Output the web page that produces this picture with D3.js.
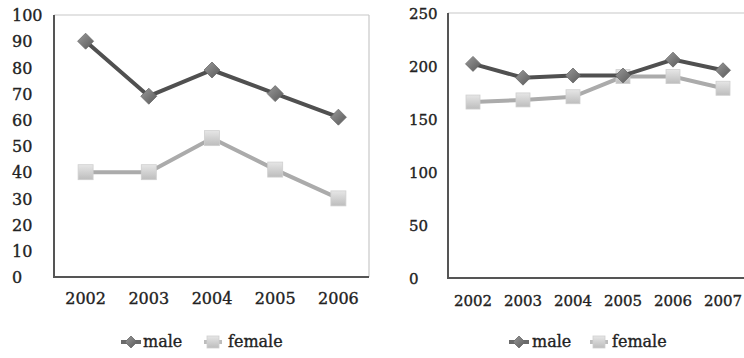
<!DOCTYPE html>
<html><head><meta charset="utf-8">
<script src="https://cdn.jsdelivr.net/npm/d3@7"></script>
<style>body{margin:0;background:#fff}svg{display:block}text{stroke:#222;stroke-width:0.35px}</style>
</head><body>
<svg id="c" width="744" height="358"></svg>
<script>
const years1 = ["2002","2003","2004","2005","2006"];
const male1 = [90, 69, 79, 70, 61];
const female1 = [40, 40, 53, 41, 30];
const yTicks1 = [0,10,20,30,40,50,60,70,80,90,100];

const years2 = ["2002","2003","2004","2005","2006","2007"];
const male2 = [202, 189, 191, 191, 206, 196];
const female2 = [166, 168, 171, 190, 190, 179];
const yTicks2 = [0,50,100,150,200,250];

const seriesNames = ["male","female"];

const svg = d3.select("#c");
const defs = svg.append("defs");
const gD = defs.append("linearGradient").attr("id","gD").attr("x1",0).attr("y1",0).attr("x2",1).attr("y2",1);
gD.append("stop").attr("offset","0%").attr("stop-color","#9a9a9a");
gD.append("stop").attr("offset","100%").attr("stop-color","#5a5a5a");
const gS = defs.append("linearGradient").attr("id","gS").attr("x1",0).attr("y1",0).attr("x2",0).attr("y2",1);
gS.append("stop").attr("offset","0%").attr("stop-color","#e6e6e6");
gS.append("stop").attr("offset","100%").attr("stop-color","#bdbdbd");

const FONT = "DejaVu Serif";

function diamond(g, x, y, r){
  g.append("path").attr("d", `M${x},${y-r}L${x+r},${y}L${x},${y+r}L${x-r},${y}Z`)
    .attr("fill","url(#gD)").attr("stroke","#6a6a6a").attr("stroke-width",0.8);
}
function square(g, x, y, s){
  g.append("rect").attr("x",x-s/2).attr("y",y-s/2).attr("width",s).attr("height",s)
    .attr("fill","url(#gS)").attr("stroke","#cfcfcf").attr("stroke-width",0.8);
}

function chart(o){
  const g = svg.append("g");
  const x = d3.scaleBand().domain(o.years).range([o.x0, o.x1]).padding(0);
  const y = d3.scaleLinear().domain([0, o.ymax]).range([o.yb, o.yt]);
  const cx = d => x(d) + x.bandwidth()/2;
  g.append("line").attr("x1",o.x0).attr("x2",o.x1r).attr("y1",o.yt).attr("y2",o.yt).attr("stroke","#c8c8c8").attr("stroke-width",1.2);
  if (o.x1r < 744) g.append("line").attr("x1",o.x1r).attr("x2",o.x1r).attr("y1",o.yt).attr("y2",o.yb).attr("stroke","#c8c8c8").attr("stroke-width",1.2);
  const ya = g.append("g").attr("transform",`translate(${o.x0},0)`).call(d3.axisLeft(y).tickValues(o.yTicks).tickSize(0).tickFormat(d3.format("d")));
  ya.select(".domain").remove();
  ya.selectAll("text").attr("x", o.labX - o.x0).attr("text-anchor","start").attr("dy","0.36em")
    .attr("font-family",FONT).attr("font-size",o.fs).attr("fill","#222");
  const xa = g.append("g").attr("transform",`translate(0,${o.yb})`).call(d3.axisBottom(x).tickSize(0));
  xa.select(".domain").remove();
  xa.selectAll("text").attr("y", o.xlabY - o.yb).attr("dy",0).attr("font-family",FONT).attr("font-size",o.fs).attr("fill","#222");
  g.append("line").attr("x1",o.x0).attr("x2",o.x0).attr("y1",o.yt).attr("y2",o.yb+1).attr("stroke","#555").attr("stroke-width",2);
  g.append("line").attr("x1",o.x0-1).attr("x2",o.x1r).attr("y1",o.yb).attr("y2",o.yb).attr("stroke","#555").attr("stroke-width",2);
  const line = d3.line().x((d,i)=>cx(o.years[i])).y(d=>y(d));
  g.append("path").attr("d", line(o.female)).attr("fill","none").attr("stroke","#ababab").attr("stroke-width",4);
  o.female.forEach((v,i)=>square(g, cx(o.years[i]), y(v), o.sq));
  g.append("path").attr("d", line(o.male)).attr("fill","none").attr("stroke","#505050").attr("stroke-width",4);
  o.male.forEach((v,i)=>diamond(g, cx(o.years[i]), y(v), o.dr));
  const L = o.leg;
  g.append("line").attr("x1",L.m-10).attr("x2",L.m+10).attr("y1",L.y).attr("y2",L.y).attr("stroke","#6a6a6a").attr("stroke-width",4);
  diamond(g, L.m, L.y, 6);
  g.append("text").attr("x",L.mt).attr("y",L.y+5).text(seriesNames[0]).attr("font-family",FONT).attr("font-size",16).attr("fill","#222");
  g.append("line").attr("x1",L.f-9).attr("x2",L.f+9).attr("y1",L.y).attr("y2",L.y).attr("stroke","#bdbdbd").attr("stroke-width",4);
  square(g, L.f, L.y, 12);
  g.append("text").attr("x",L.ft).attr("y",L.y+5).text(seriesNames[1]).attr("font-family",FONT).attr("font-size",16).attr("fill","#222");
}

chart({years:years1, male:male1, female:female1, yTicks:yTicks1, ymax:100,
  x0:54, x1:370, x1r:369, yt:15, yb:277, labX:12, xlabY:304, fs:16, sq:15, dr:8,
  leg:{m:131, mt:143, f:213, ft:228, y:342}});
chart({years:years2, male:male2, female:female2, yTicks:yTicks2, ymax:250,
  x0:448, x1:748, x1r:744, yt:13, yb:278, labX:409, xlabY:306, fs:15, sq:14, dr:7.5,
  leg:{m:519, mt:532, f:599, ft:612, y:342}});
</script>
</body></html>
